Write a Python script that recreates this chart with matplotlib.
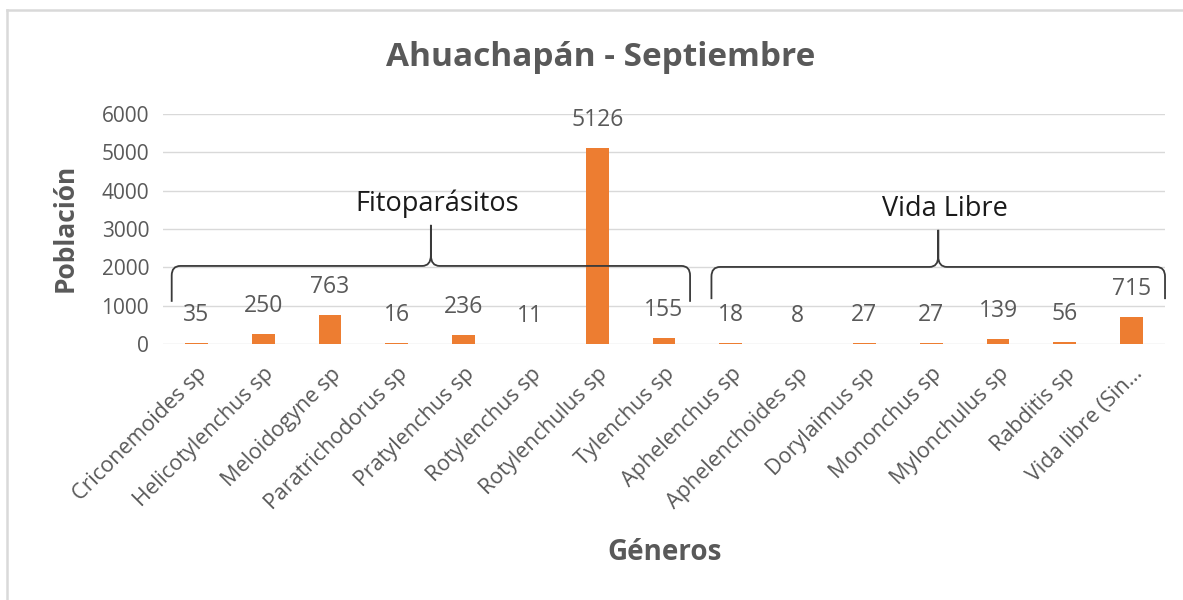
import matplotlib
matplotlib.use("Agg")
from matplotlib import pyplot as plt
from matplotlib.path import Path
from matplotlib.patches import PathPatch
from matplotlib.lines import Line2D

# Data
generos = ["Criconemoides sp", "Helicotylenchus sp", "Meloidogyne sp",
           "Paratrichodorus sp", "Pratylenchus sp", "Rotylenchus sp",
           "Rotylenchulus sp", "Tylenchus sp", "Aphelenchus sp",
           "Aphelenchoides sp", "Dorylaimus sp", "Mononchus sp",
           "Mylonchulus sp", "Rabditis sp", "Vida libre (Sin…"]
poblacion = [35, 250, 763, 16, 236, 11, 5126, 155, 18, 8, 27, 27, 139, 56, 715]
grupos = ["Fitoparásitos", "Vida Libre"]
grupo_rango = [(0, 7), (8, 14)]

gray = "#595959"
plt.rcParams["font.family"] = ["Open Sans", "DejaVu Sans"]

fig = plt.figure(figsize=(11.83, 6), dpi=100)
ax = fig.add_axes([0.1378, 0.4267, 0.847, 0.3833])

x = list(range(len(generos)))
ax.bar(x, poblacion, width=0.34, color="#ED7D31", zorder=3)

# Data labels
for i, v in zip(x, poblacion):
    ax.annotate(str(v), (i, v), xytext=(0, 28), textcoords="offset pixels",
                ha="center", va="center", fontsize=16.5, color=gray)

# Axes format
ax.set_xlim(-0.5, len(generos) - 0.5)
ax.set_ylim(0, 6000)
ax.set_yticks(range(0, 6001, 1000))
ax.grid(axis="y", color="#d9d9d9", lw=1, zorder=0)
for s in ax.spines.values():
    s.set_visible(False)
ax.tick_params(axis="both", length=0, labelsize=15, labelcolor=gray)
ax.tick_params(axis="y", pad=10)
ax.set_xticks(x)
ax.set_xticklabels(generos, rotation=45, ha="right", rotation_mode="anchor",
                   fontsize=15.5)
ax.tick_params(axis="x", pad=14)

fig.text(0.508, 1 - 57 / 600, "Ahuachapán - Septiembre", ha="center",
         va="center", fontsize=24, fontweight="bold", color=gray)
fig.text(0.055, 0.62, "Población", rotation=90, ha="center", va="center",
         fontsize=19, fontweight="bold", color=gray)
fig.text(0.562, 0.08, "Géneros", ha="center", va="center",
         fontsize=20, fontweight="bold", color=gray)

# Group brackets
def bracket(x0, x1, yh, yend, ypk, label, ytxt):
    xm = (x0 + x1) / 2
    d = 0.13
    verts = [(x0, yend), (x0, yh - 250), (x0, yh), (x0 + d, yh),
             (xm - d, yh), (xm, yh), (xm, yh + 280), (xm, ypk),
             (xm, yh + 280), (xm, yh), (xm + d, yh),
             (x1 - d, yh), (x1, yh), (x1, yh - 250), (x1, yend)]
    codes = [Path.MOVETO, Path.LINETO, Path.CURVE3, Path.CURVE3,
             Path.LINETO, Path.CURVE3, Path.CURVE3, Path.LINETO,
             Path.LINETO, Path.CURVE3, Path.CURVE3,
             Path.LINETO, Path.CURVE3, Path.CURVE3, Path.LINETO]
    ax.add_patch(PathPatch(Path(verts, codes), fill=False, ec="#3a3a3a",
                           lw=1.3, clip_on=False, zorder=4))
    ax.text(xm + 0.1, ytxt, label, ha="center", va="center", fontsize=19.5,
            color="#1a1a1a", zorder=4)

bracket(grupo_rango[0][0] - 0.37, grupo_rango[0][1] + 0.39, 2036, 1100, 3107,
        grupos[0], 3650)
bracket(grupo_rango[1][0] - 0.29, grupo_rango[1][1] + 0.5, 2010, 1170, 2977,
        grupos[1], 3530)

# Chart border (top and left only visible)
fig.add_artist(Line2D([7 / 1183, 7 / 1183], [0, 1 - 10 / 600],
                      transform=fig.transFigure, color="#d9d9d9", lw=1.8))
fig.add_artist(Line2D([7 / 1183, 1], [1 - 10 / 600, 1 - 10 / 600],
                      transform=fig.transFigure, color="#d9d9d9", lw=1.8))

fig.savefig("out.png", dpi=100)
